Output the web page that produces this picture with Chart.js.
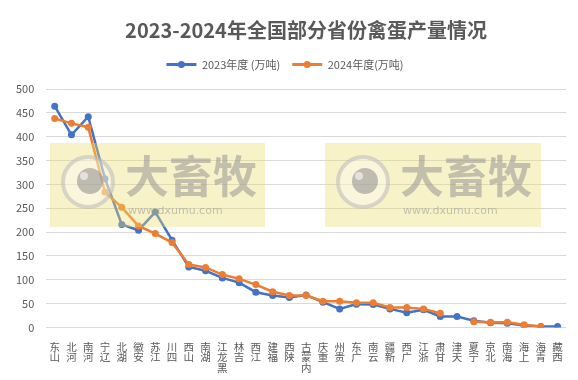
<!DOCTYPE html>
<html><head><meta charset="utf-8">
<script src="https://cdn.jsdelivr.net/npm/chart.js@4"></script>
<style>html,body{margin:0;padding:0;background:#fff}#wrap{width:578px;height:380px}</style>
</head><body><div id="wrap"><canvas id="c" width="578" height="380"></canvas></div>
<script>
const categories = ['山东','河北','河南','辽宁','湖北','安徽','江苏','四川','山西','湖南','黑龙江','吉林','江西','福建','陕西','内蒙古','重庆','贵州','广东','云南','新疆','广西','浙江','甘肃','天津','宁夏','北京','海南','上海','青海','西藏'];
const series2023 = [464,404,442,312,216,204,242,183,127,119,104,94,74,67,63,68,53,39,49,48,39,31,37,23,23,14,10,9,4,2,2];
const series2024 = [438,428,420,284,252,213,197,178,132,126,111,102,90,75,67,67,55,55,52,52,42,42,39,30,null,12,11,11,6,2,null];
const yTicks = [0,50,100,150,200,250,300,350,400,450,500];
const seriesNames = ['2023年度 (万吨)','2024年度(万吨)'];
const titleText = '2023-2024年全国部分省份禽蛋产量情况';

const legendPad = {
  id:'legendPad',
  afterInit(chart){
    const lg = chart.legend;
    if(!lg) return;
    const fit = lg.fit.bind(lg);
    lg.fit = function(){ fit(); this.height += 9; };
  }
};

const watermark = {
  id:'wm',
  afterDraw(chart){
    const ctx = chart.ctx;
    ctx.save();
    // legend markers
    const lg = chart.legend;
    if(lg && lg.legendHitBoxes){
      lg.legendHitBoxes.forEach((hb,i)=>{
        const col = chart.data.datasets[i].borderColor;
        ctx.beginPath();
        ctx.arc(hb.left+15, hb.top+hb.height/2, 3.5, 0, Math.PI*2);
        ctx.fillStyle=col;ctx.fill();
      });
    }
    const boxes = [[50,143,215,84],[325,143,216,84]];
    boxes.forEach(([x,y,w,h])=>{
      ctx.fillStyle='rgba(235,220,110,0.38)';
      ctx.fillRect(x,y,w,h);
      const cx=x+38, cy=y+39;
      ctx.beginPath();ctx.arc(cx,cy,25,0,Math.PI*2);
      ctx.fillStyle='rgba(255,255,255,0.35)';ctx.fill();
      ctx.lineWidth=4;ctx.strokeStyle='rgba(185,185,185,0.55)';ctx.stroke();
      ctx.beginPath();ctx.arc(cx+2,cy-1,13,0,Math.PI*2);
      ctx.fillStyle='rgba(140,140,140,0.55)';ctx.fill();
      ctx.beginPath();ctx.arc(cx-4,cy-6,4,0,Math.PI*2);
      ctx.fillStyle='rgba(235,235,235,0.8)';ctx.fill();
      ctx.fillStyle='rgba(150,150,150,0.55)';
      ctx.font='bold 44px "Noto Sans CJK SC"';
      ctx.textBaseline='middle';ctx.textAlign='left';
      ctx.fillText('大畜牧',x+75,y+33);
      ctx.font='11px "DejaVu Sans"';
      ctx.fillText('www.dxumu.com',x+78,y+68);
    });
    ctx.fillStyle='#595959';
    ctx.font='bold 20px "Noto Sans CJK SC"';
    ctx.textAlign='center';ctx.textBaseline='middle';
    ctx.fillText(titleText,306,30);
    ctx.restore();
  }
};

new Chart(document.getElementById('c'),{
  type:'line',
  data:{
    labels:categories.map(s=>s.split('').reverse()),
    datasets:[
      {label:seriesNames[0],data:series2023,order:1,borderColor:'#4472C4',backgroundColor:'#4472C4',borderWidth:2.5,pointRadius:3.5,pointBorderWidth:0,pointHoverRadius:3.5,tension:0,spanGaps:false},
      {label:seriesNames[1],data:series2024,order:0,borderColor:'#ED7D31',backgroundColor:'#ED7D31',borderWidth:2.5,pointRadius:3.5,pointBorderWidth:0,pointHoverRadius:3.5,tension:0,spanGaps:false}
    ]
  },
  options:{
    responsive:false,animation:false,
    layout:{padding:{left:4,right:12,top:0,bottom:1}},
    plugins:{
      title:{display:true,text:titleText,color:'rgba(0,0,0,0)',font:{family:'"Noto Sans CJK SC"',size:20,weight:'bold'},padding:{top:20,bottom:3}},
      legend:{labels:{color:'#595959',font:{family:'"Noto Sans CJK SC"',size:11},boxWidth:30,boxHeight:3,padding:12,
        generateLabels(chart){
        return chart.data.datasets.map((d,i)=>({text:d.label,fillStyle:d.borderColor,strokeStyle:d.borderColor,lineWidth:0,datasetIndex:i,fontColor:'#595959'}));
      }}},
      tooltip:{enabled:false}
    },
    scales:{
      x:{offset:true,grid:{display:false},border:{display:false},
        ticks:{color:'#595959',font:{family:'"Noto Sans CJK SC"',size:10.5,lineHeight:1.0},maxRotation:0,minRotation:0,autoSkip:false,padding:6}},
      y:{min:0,max:500,afterBuildTicks(ax){ax.ticks=yTicks.map(v=>({value:v}));},
        grid:{color:'#D9D9D9',drawTicks:false},border:{display:false},
        ticks:{color:'#595959',font:{family:'"Noto Sans CJK SC"',size:11},padding:12}}
    }
  },
  plugins:[legendPad,watermark]
});
</script></body></html>
